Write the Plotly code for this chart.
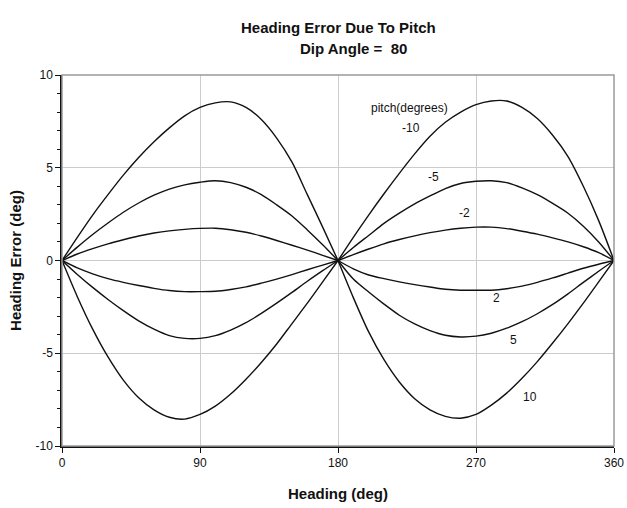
import plotly.graph_objects as go

heading = list(range(0, 361, 10))

pitch_m10 = [0, 1.25, 2.45, 3.55, 4.6, 5.55, 6.4, 7.15, 7.8, 8.25, 8.5, 8.55, 8.25, 7.6, 6.6, 5.3, 3.55, 1.8, 0,
             1.25, 2.45, 3.6, 4.7, 5.75, 6.7, 7.45, 8.0, 8.4, 8.6, 8.6, 8.25, 7.65, 6.75, 5.6, 4.0, 2.15, 0]
pitch_m5 = [0, 0.72, 1.4, 2.02, 2.6, 3.1, 3.52, 3.85, 4.08, 4.22, 4.3, 4.2, 3.95, 3.55, 3.0, 2.4, 1.65, 0.85, 0,
            0.7, 1.35, 2.0, 2.55, 3.05, 3.48, 3.88, 4.15, 4.27, 4.3, 4.2, 3.92, 3.55, 3.08, 2.55, 1.85, 1.0, 0]
pitch_m2 = [0, 0.35, 0.64, 0.9, 1.12, 1.32, 1.48, 1.6, 1.68, 1.73, 1.74, 1.66, 1.52, 1.32, 1.08, 0.82, 0.56, 0.28, 0,
            0.32, 0.62, 0.9, 1.13, 1.33, 1.5, 1.64, 1.74, 1.8, 1.8, 1.72, 1.58, 1.42, 1.22, 1.0, 0.74, 0.42, 0]
pitch_p2 = [0, -0.4, -0.72, -0.98, -1.18, -1.35, -1.5, -1.62, -1.68, -1.68, -1.66, -1.56, -1.42, -1.22, -1.0, -0.76, -0.5, -0.25, 0,
            -0.45, -0.78, -0.98, -1.15, -1.3, -1.43, -1.55, -1.6, -1.6, -1.6, -1.52, -1.38, -1.18, -0.94, -0.68, -0.42, -0.2, 0]
pitch_p5 = [0, -0.75, -1.45, -2.1, -2.7, -3.25, -3.7, -4.05, -4.2, -4.2, -4.05, -3.75, -3.35, -2.85, -2.3, -1.72, -1.12, -0.55, 0,
            -1.0, -1.7, -2.35, -2.95, -3.42, -3.78, -4.03, -4.12, -4.08, -3.92, -3.65, -3.3, -2.87, -2.37, -1.8, -1.18, -0.58, 0]
pitch_p10 = [0, -1.95, -3.7, -5.2, -6.45, -7.4, -8.05, -8.45, -8.55, -8.3, -7.85, -7.2, -6.4, -5.5, -4.5, -3.4, -2.3, -1.15, 0,
             -2.0, -3.85, -5.35, -6.55, -7.45, -8.05, -8.4, -8.5, -8.3, -7.8, -7.15, -6.35, -5.45, -4.45, -3.4, -2.3, -1.15, 0]

series = [("-10", pitch_m10), ("-5", pitch_m5), ("-2", pitch_m2),
          ("2", pitch_p2), ("5", pitch_p5), ("10", pitch_p10)]

x_ticks = [0, 90, 180, 270, 360]
y_ticks = [-10, -5, 0, 5, 10]

FONT = "Liberation Sans Narrow, Arial Narrow, Liberation Sans, Arial, sans-serif"
INK = "#111111"

fig = go.Figure()
half = heading.index(180)
for name, vals in series:
    for sl in (slice(0, half + 1), slice(half, len(heading))):
        fig.add_trace(go.Scatter(
            x=heading[sl], y=vals[sl], mode="lines", name=name,
            line=dict(color=INK, width=1.4, shape="spline", smoothing=0.8),
            showlegend=False, hoverinfo="skip"))

# curve labels
labels = [("pitch(degrees)", 226.8, 8.22), ("-10", 227.4, 7.14), ("-5", 242.4, 4.5),
          ("-2", 262.5, 2.56), ("2", 283.3, -2.02), ("5", 294.3, -4.29), ("10", 305.4, -7.36)]
for txt, lx, ly in labels:
    fig.add_annotation(x=lx, y=ly, text=txt, showarrow=False,
                       font=dict(family=FONT, size=12, color=INK))

fig.add_annotation(xref="paper", yref="paper", x=0.5, y=1, yanchor="middle", xanchor="center",
                   text="<b>Heading Error Due To Pitch</b>",
                   showarrow=False, xshift=0, yshift=48, font=dict(family=FONT, size=15, color=INK))
fig.add_annotation(xref="paper", yref="paper", x=0.5, y=1, yanchor="middle", xanchor="center",
                   text="<b>Dip Angle =  80</b>",
                   showarrow=False, xshift=15, yshift=27, font=dict(family=FONT, size=15, color=INK))

# plot frame (grey)
fig.add_shape(type="rect", xref="paper", yref="paper", x0=0, y0=0, x1=1, y1=1,
              line=dict(color="#9a9a9a", width=1.5), layer="above")

fig.update_layout(
    width=627, height=508,
    margin=dict(l=62, r=13, t=75, b=62, autoexpand=False),
    paper_bgcolor="white", plot_bgcolor="white",
    font=dict(family=FONT, size=11, color=INK),
    xaxis=dict(range=[0, 360], tickvals=x_ticks, ticktext=[str(v) for v in x_ticks],
               showgrid=True, gridcolor="#cccccc", gridwidth=1, zeroline=False,
               showline=True, linecolor=INK, linewidth=1.5, automargin=False,
               ticks="outside", ticklen=5, tickcolor=INK,
               title=dict(text="<b>Heading (deg)</b>", font=dict(family=FONT, size=15, color=INK), standoff=19),
               tickfont=dict(family=FONT, size=12, color=INK)),
    yaxis=dict(range=[-10, 10], tickvals=y_ticks, ticktext=[str(v) for v in y_ticks],
               showgrid=True, gridcolor="#cccccc", gridwidth=1, zeroline=False,
               showline=True, linecolor=INK, linewidth=1.5, automargin=False,
               ticks="outside", ticklen=5, tickcolor=INK,
               minor=dict(dtick=1, ticks="outside", ticklen=3, tickcolor=INK, showgrid=False),
               title=dict(text="<b>Heading Error (deg)</b>", font=dict(family=FONT, size=15, color=INK), standoff=10),
               tickfont=dict(family=FONT, size=12, color=INK)),
)

fig.write_html("out.html", config={"displayModeBar": False},
               post_script="document.body.style.margin='0';")
